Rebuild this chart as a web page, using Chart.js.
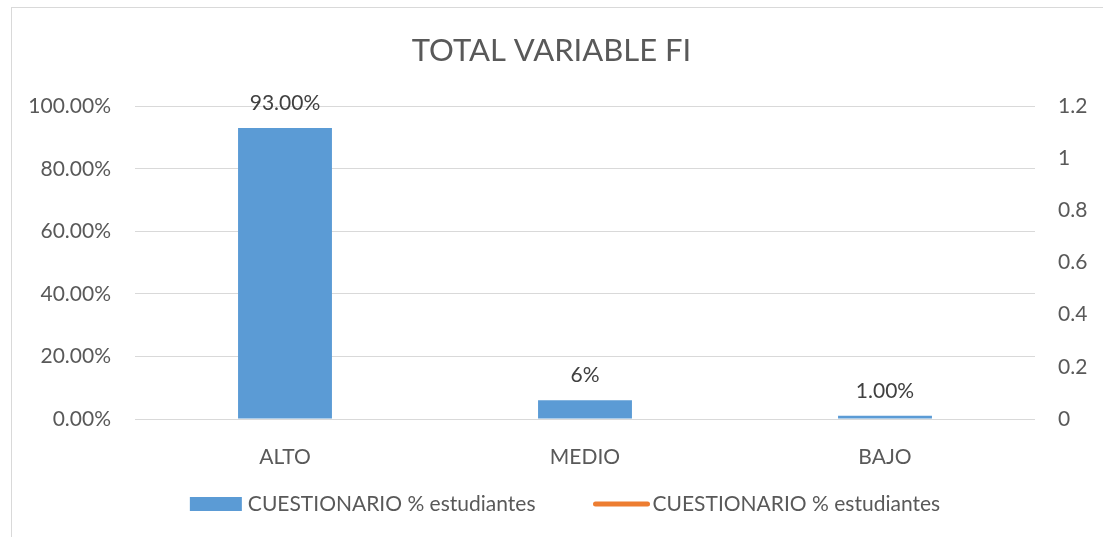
<!DOCTYPE html>
<html>
<head>
<meta charset="utf-8">
<script src="https://cdn.jsdelivr.net/npm/chart.js@4.4.0/dist/chart.umd.min.js"></script>
<style>
  html, body { margin: 0; padding: 0; background: #fff; overflow: hidden; }
  #wrap { position: relative; width: 1103px; height: 537px; }
  #frame { position: absolute; left: 11px; top: 7px; width: 1200px; height: 700px;
           border-left: 1px solid #d9d9d9; border-top: 1px solid #d9d9d9; pointer-events: none; }
  canvas { position: absolute; left: 0; top: 0; }
</style>
</head>
<body>
<div id="wrap">
  <canvas id="my_chart" width="1103" height="537"></canvas>
  <div id="frame"></div>
</div>
<script>
// datos del grafico
const categorias = ['ALTO', 'MEDIO', 'BAJO'];
const porcentajes = [0.93, 0.06, 0.01];
const etiquetas = ['93.00%', '6%', '1.00%'];
const lineaValores = [null, null, null];
const serieNombre = 'CUESTIONARIO % estudiantes';
const ticksIzq = [0, 0.2, 0.4, 0.6, 0.8, 1];
const ticksDer = [0, 0.2, 0.4, 0.6, 0.8, 1, 1.2];

const gris = '#595959';
const fuente = 'Lato, "Open Sans", sans-serif';

// etiquetas encima de las barras
const etiquetasBarras = {
  id: 'etiquetasBarras',
  afterDatasetsDraw(chart) {
    const ctx = chart.ctx;
    const meta = chart.getDatasetMeta(0);
    ctx.save();
    ctx.font = '21px ' + fuente;
    ctx.fillStyle = '#404040';
    ctx.textAlign = 'center';
    ctx.textBaseline = 'middle';
    meta.data.forEach((bar, i) => {
      ctx.fillText(etiquetas[i], bar.x, bar.y - 25);
    });
    ctx.restore();
  }
};

// leyenda dibujada a mano (estilo excel)
const leyenda = {
  id: 'leyenda',
  afterDraw(chart) {
    const ctx = chart.ctx;
    const ds = chart.data.datasets;
    const y = 504;
    ctx.save();
    ctx.font = '21px ' + fuente;
    ctx.textBaseline = 'middle';
    ctx.textAlign = 'left';
    const w1 = ctx.measureText(ds[0].label).width;
    const w2 = ctx.measureText(ds[1].label).width;
    const total = 52 + 6 + w1 + 58 + 56 + 3 + w2;
    let x = 565 - total / 2;
    ctx.fillStyle = ds[0].backgroundColor;
    ctx.fillRect(x, y - 7, 52, 14);
    x += 58;
    ctx.fillStyle = gris;
    ctx.fillText(ds[0].label, x, y);
    x += w1 + 58;
    ctx.strokeStyle = ds[1].borderColor;
    ctx.lineWidth = 5;
    ctx.lineCap = 'round';
    ctx.beginPath();
    ctx.moveTo(x + 2, y);
    ctx.lineTo(x + 54, y);
    ctx.stroke();
    x += 59;
    ctx.fillText(ds[1].label, x, y);
    ctx.restore();
  }
};

const my_chart = document.getElementById('my_chart').getContext('2d');
const barChart = new Chart(my_chart, {
  type: 'bar',
  data: {
    labels: categorias,
    datasets: [{
      label: serieNombre,
      data: porcentajes,
      backgroundColor: '#5b9bd5',
      yAxisID: 'y',
      barPercentage: 1,
      categoryPercentage: 0.313
    }, {
      type: 'line',
      label: serieNombre,
      data: lineaValores,
      borderColor: '#ed7d31',
      backgroundColor: '#ed7d31',
      borderWidth: 5,
      yAxisID: 'y1'
    }]
  },
  options: {
    responsive: false,
    animation: false,
    layout: { padding: { left: 0, right: 0, top: 0, bottom: 54 } },
    scales: {
      x: {
        grid: { display: false },
        border: { display: false },
        ticks: { color: gris, font: { family: fuente, size: 21 }, padding: 18 },
        afterFit(scale) { scale.height = 64; }
      },
      y: {
        position: 'left',
        min: 0, max: 1,
        afterBuildTicks(scale) { scale.ticks = ticksIzq.map(v => ({ value: v })); },
        grid: { color: '#d9d9d9', lineWidth: 1, drawTicks: false },
        border: { display: false },
        ticks: {
          color: gris, font: { family: fuente, size: 21 }, padding: 24,
          callback: v => (v * 100).toFixed(2) + '%'
        },
        afterFit(scale) { scale.width = 135; }
      },
      y1: {
        position: 'right',
        min: 0, max: 1.2,
        afterBuildTicks(scale) { scale.ticks = ticksDer.map(v => ({ value: v })); },
        grid: { display: false, drawTicks: false },
        border: { display: false },
        ticks: {
          color: gris, font: { family: fuente, size: 21 }, padding: 23,
          callback: v => String(Number(v.toFixed(1)))
        },
        afterFit(scale) { scale.width = 68; }
      }
    },
    plugins: {
      title: {
        display: true,
        text: 'TOTAL VARIABLE FI',
        color: gris,
        font: { family: fuente, size: 31, weight: 'normal' },
        padding: { top: 32, bottom: 37 }
      },
      legend: { display: false },
      tooltip: { enabled: false }
    }
  },
  plugins: [etiquetasBarras, leyenda]
});
</script>
</body>
</html>
